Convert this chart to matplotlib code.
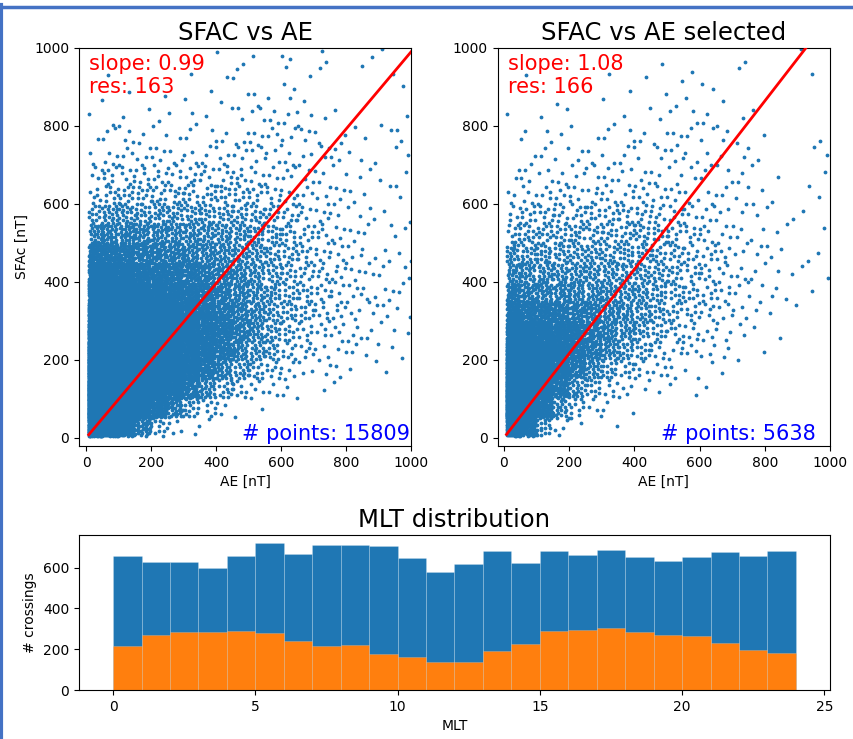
import numpy as np
import matplotlib
matplotlib.use("Agg")
import matplotlib.pyplot as plt
from matplotlib.lines import Line2D

# ---------------------------------------------------------------------------
# Data
# ---------------------------------------------------------------------------
# 2D occupancy of the SFAC/AE plane: counts per 50 nT x 50 nT cell.
# Rows run from SFAC 950-1000 nT (top) down to 0-50 nT (bottom),
# columns from AE 0-50 nT (left) to 950-1000 nT (right).
ae_edges = [8, 50, 100, 150, 200, 250, 300, 350, 400, 450, 500,
            550, 600, 650, 700, 750, 800, 850, 900, 950, 1000]
sfac_edges = [5, 50, 100, 150, 200, 250, 300, 350, 400, 450, 500,
              550, 600, 650, 700, 750, 800, 850, 900, 950, 1000]

counts_all = [
    [0, 0, 0, 0, 0, 0, 0, 0, 1, 1, 1, 0, 3, 0, 2, 0, 1, 1, 1, 0],
    [0, 1, 0, 0, 0, 0, 1, 0, 1, 2, 0, 0, 1, 1, 1, 0, 0, 0, 1, 1],
    [0, 1, 1, 0, 1, 0, 1, 1, 1, 1, 2, 1, 2, 1, 0, 0, 0, 0, 0, 0],
    [1, 1, 2, 1, 1, 1, 2, 1, 1, 2, 3, 3, 3, 2, 1, 1, 0, 0, 1, 1],
    [1, 3, 3, 2, 2, 1, 2, 2, 2, 3, 4, 4, 3, 3, 2, 2, 1, 1, 1, 2],
    [2, 4, 4, 4, 4, 3, 3, 3, 4, 4, 4, 3, 3, 3, 3, 3, 2, 1, 0, 2],
    [4, 7, 7, 6, 6, 6, 6, 6, 6, 6, 5, 4, 4, 3, 3, 2, 1, 1, 1, 1],
    [6, 11, 11, 10, 10, 10, 10, 10, 10, 9, 8, 7, 6, 4, 3, 3, 2, 1, 1, 2],
    [14, 20, 20, 18, 18, 17, 17, 16, 15, 14, 13, 10, 8, 6, 5, 3, 2, 2, 1, 1],
    [25, 32, 32, 30, 28, 27, 25, 24, 22, 20, 18, 14, 11, 8, 6, 4, 3, 2, 2, 1],
    [55, 55, 50, 45, 40, 36, 32, 28, 26, 22, 20, 15, 12, 9, 6, 5, 3, 2, 2, 2],
    [120, 110, 90, 70, 60, 52, 44, 38, 32, 28, 22, 16, 12, 9, 7, 5, 4, 3, 2, 2],
    [180, 170, 140, 110, 85, 70, 60, 50, 40, 32, 24, 18, 13, 10, 7, 5, 4, 3, 3, 2],
    [250, 240, 200, 160, 120, 95, 75, 60, 45, 35, 26, 18, 14, 10, 7, 6, 4, 3, 2, 2],
    [413, 330, 280, 220, 160, 120, 90, 70, 50, 36, 26, 16, 10, 7, 5, 4, 3, 2, 2, 1],
    [620, 400, 330, 250, 180, 130, 90, 65, 45, 30, 20, 14, 8, 6, 4, 3, 3, 2, 1, 1],
    [700, 550, 330, 240, 170, 115, 75, 48, 30, 18, 12, 8, 5, 3, 2, 2, 1, 1, 1, 0],
    [780, 620, 300, 200, 130, 80, 45, 25, 14, 8, 5, 3, 2, 1, 1, 1, 0, 0, 0, 0],
    [800, 520, 230, 120, 65, 35, 15, 7, 3, 1, 1, 0, 0, 0, 0, 0, 0, 0, 0, 0],
    [500, 260, 100, 35, 10, 4, 2, 1, 0, 0, 0, 0, 0, 0, 0, 0, 0, 0, 0, 0],
]

counts_selected = [
    [0, 0, 0, 0, 0, 0, 0, 0, 0, 1, 0, 0, 0, 0, 1, 0, 0, 0, 1, 0],
    [0, 1, 0, 0, 0, 0, 1, 0, 1, 0, 1, 1, 1, 0, 1, 0, 0, 0, 1, 0],
    [0, 0, 0, 1, 0, 0, 1, 1, 0, 1, 1, 1, 1, 1, 0, 0, 0, 0, 0, 0],
    [1, 0, 1, 1, 0, 0, 1, 1, 1, 1, 1, 2, 2, 1, 1, 1, 0, 0, 0, 0],
    [0, 2, 2, 1, 1, 1, 2, 2, 2, 2, 3, 2, 2, 2, 1, 1, 0, 0, 0, 1],
    [0, 2, 2, 2, 2, 2, 2, 3, 2, 3, 3, 2, 2, 2, 2, 1, 0, 0, 0, 2],
    [2, 3, 3, 3, 3, 3, 3, 3, 3, 3, 3, 2, 2, 2, 2, 1, 1, 0, 0, 1],
    [3, 5, 5, 5, 5, 5, 5, 5, 5, 4, 4, 3, 3, 2, 2, 1, 1, 0, 1, 1],
    [6, 9, 9, 9, 9, 9, 9, 9, 9, 8, 7, 5, 4, 3, 2, 2, 1, 1, 1, 0],
    [10, 13, 13, 13, 13, 13, 12, 12, 12, 11, 9, 7, 6, 4, 3, 2, 1, 1, 0, 1],
    [18, 18, 18, 17, 17, 16, 15, 15, 14, 13, 11, 8, 6, 5, 3, 2, 2, 1, 1, 1],
    [25, 24, 24, 23, 22, 21, 20, 18, 17, 15, 12, 9, 7, 5, 3, 2, 2, 1, 1, 1],
    [40, 35, 32, 30, 28, 26, 24, 22, 20, 16, 12, 9, 7, 5, 3, 2, 2, 1, 1, 0],
    [60, 55, 50, 45, 40, 35, 30, 25, 20, 15, 10, 8, 6, 4, 3, 2, 1, 1, 0, 0],
    [110, 100, 85, 70, 55, 42, 32, 24, 17, 12, 8, 6, 4, 3, 2, 1, 1, 0, 0, 0],
    [253, 160, 120, 90, 60, 40, 27, 18, 12, 8, 5, 4, 3, 2, 1, 1, 0, 0, 0, 0],
    [330, 200, 130, 75, 42, 25, 15, 9, 6, 4, 3, 2, 1, 1, 0, 0, 0, 0, 0, 0],
    [400, 280, 100, 45, 22, 12, 6, 4, 2, 1, 1, 1, 1, 0, 0, 0, 0, 0, 0, 0],
    [400, 160, 65, 22, 9, 4, 2, 1, 0, 0, 0, 0, 0, 0, 0, 0, 0, 0, 0, 0],
    [150, 60, 16, 4, 1, 0, 1, 0, 0, 0, 0, 0, 0, 0, 0, 0, 0, 0, 0, 0],
]

# Linear fit results
slope_all, res_all = 0.99, 163
slope_sel, res_sel = 1.08, 166

# MLT histogram (1 h bins, 0-24 MLT)
mlt_edges = list(range(25))
mlt_counts_all = [657, 630, 628, 598, 655, 720, 665, 712, 709, 707, 645, 577,
                  618, 682, 623, 680, 663, 687, 650, 632, 653, 679, 655, 684]
mlt_counts_sel = [215, 269, 282, 285, 287, 278, 240, 218, 223, 178, 162, 135,
                  138, 190, 225, 289, 294, 302, 284, 270, 264, 230, 198, 182]


def cells_to_points(counts, x_edges, y_edges):
    """Spread each cell's count evenly over the cell (R2 low-discrepancy layout)."""
    grid = np.asarray(counts)[::-1]          # bottom row first
    xe = np.asarray(x_edges, float)
    ye = np.asarray(y_edges, float)
    a1, a2 = 0.7548776662466927, 0.5698402909980532
    xs, ys = [], []
    nrows, ncols = grid.shape
    for i in range(nrows):
        for j in range(ncols):
            n = int(grid[i, j])
            if n == 0:
                continue
            k = np.arange(1, n + 1)
            cid = i * ncols + j
            u = (cid * 0.6180339887 + 0.5 + k * a1) % 1.0
            v = (cid * 0.4142135623 + 0.5 + k * a2) % 1.0
            xs.append(xe[j] + u * (xe[j + 1] - xe[j]))
            ys.append(ye[i] + v * (ye[i + 1] - ye[i]))
    return np.concatenate(xs), np.concatenate(ys)


ae_all, sfac_all = cells_to_points(counts_all, ae_edges, sfac_edges)
ae_sel, sfac_sel = cells_to_points(counts_selected, ae_edges, sfac_edges)

# ---------------------------------------------------------------------------
# Figure
# ---------------------------------------------------------------------------
W, H = 854, 739
fig = plt.figure(figsize=(W / 100, H / 100), dpi=100)

ax1 = fig.add_axes([79 / W, 1 - 446 / H, 332 / W, 398 / H])
ax2 = fig.add_axes([497.7 / W, 1 - 446 / H, 332.3 / W, 398 / H])
ax3 = fig.add_axes([79 / W, 1 - 690 / H, 751 / W, 155 / H])

blue = "#1f77b4"
orange = "#ff7f0e"


def scatter_panel(ax, x, y, slope, res, title, xlo):
    ax.scatter(x, y, s=3, color=blue, zorder=2)
    xf = np.array([x.min(), x.max()])
    ax.plot(xf, slope * xf, color="red", lw=2, zorder=3)
    ax.set_xlim(xlo, 1000)
    ax.set_ylim(-21, 1000)
    ax.set_xticks(range(0, 1001, 200))
    ax.set_yticks(range(0, 1001, 200))
    ax.set_xlabel("AE [nT]")
    ax.set_title(title, fontsize=17.5)
    ax.text(0.03, 0.985, f"slope: {slope:.2f}\nres: {res}", color="red",
            fontsize=15, ha="left", va="top", transform=ax.transAxes, zorder=4)
    ax.text(0.49, 0.004, f"# points: {len(x)}", color="blue",
            fontsize=15, ha="left", va="bottom", transform=ax.transAxes, zorder=4)


scatter_panel(ax1, ae_all, sfac_all, slope_all, res_all, "SFAC vs AE", -22)
scatter_panel(ax2, ae_sel, sfac_sel, slope_sel, res_sel, "SFAC vs AE selected", -19)
ax1.set_ylabel("SFAc [nT]")

# MLT distribution
left_edges = np.array(mlt_edges[:-1])
seam = (1, 1, 1, 0.25)
ax3.bar(left_edges, mlt_counts_all, width=1, align="edge", color=blue,
        edgecolor=seam, linewidth=0.5)
ax3.bar(left_edges, mlt_counts_sel, width=1, align="edge", color=orange,
        edgecolor=seam, linewidth=0.5)
ax3.set_xlim(-1.2, 25.2)
ax3.set_ylim(0, 760)
ax3.set_yticks([0, 200, 400, 600])
ax3.set_xticks([0, 5, 10, 15, 20, 25])
ax3.set_xlabel("MLT")
ax3.set_ylabel("# crossings")
ax3.set_title("MLT distribution", fontsize=17.5)

# Frame lines along the top and left edges
frame = "#4472c4"
fig.add_artist(Line2D([0, 1], [1 - 6.5 / H, 1 - 6.5 / H], color=frame, lw=2.5,
                      transform=fig.transFigure))
fig.add_artist(Line2D([1.5 / W, 1.5 / W], [0, 1 - 5 / H], color=frame, lw=3,
                      transform=fig.transFigure))

fig.savefig("out.png", dpi=100)
